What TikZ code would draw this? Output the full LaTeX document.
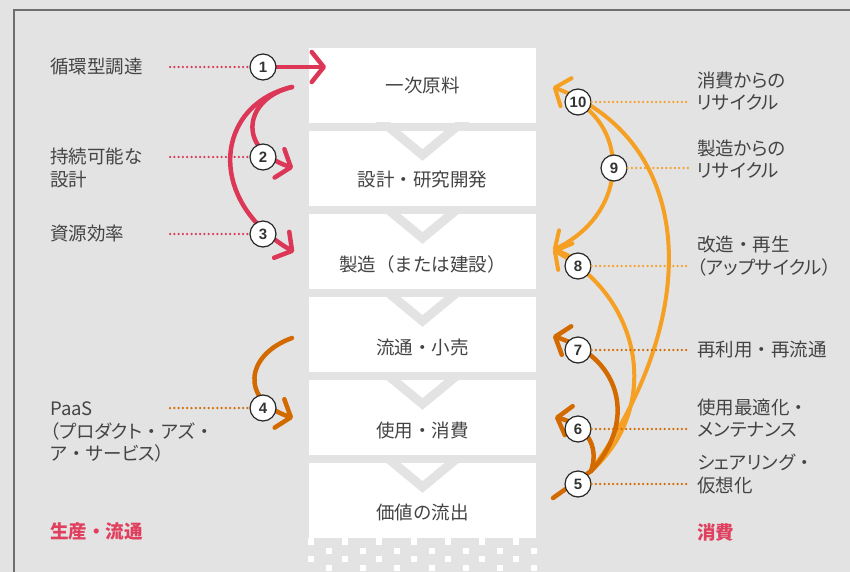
\documentclass[tikz,border=0pt]{standalone}
\usepackage{fontspec}
\setmainfont{Noto Sans CJK JP}
\newfontfamily\sidefont{Noto Sans CJK JP}[RawFeature=+palt]
\newfontfamily\plainjp{Noto Sans CJK JP}
\newfontfamily\numfont{Liberation Sans}
\newcommand\nkg{{\plainjp ・}}
\usetikzlibrary{arrows.meta}
\definecolor{bg}{HTML}{E3E3E3}
\definecolor{txt}{HTML}{444444}
\definecolor{cred}{HTML}{DC3757}
\definecolor{cdark}{HTML}{D26A00}
\definecolor{clight}{HTML}{F5A023}
\definecolor{lbred}{HTML}{E0405E}
\definecolor{framec}{HTML}{6E6E6E}
\begin{document}
\begin{tikzpicture}[x=1pt,y=-1pt,
  lbl/.style={anchor=west, align=left, text=txt, font=\sidefont\fontsize{18.5}{22.5}\selectfont, inner sep=0pt},
  boxlbl/.style={text=txt, font=\fontsize{18.5}{22.5}\selectfont, inner sep=0pt},
  headlbl/.style={anchor=west, text=lbred, font=\fontsize{18.5}{22.5}\selectfont\bfseries, inner sep=0pt},
  num/.style={circle, draw=black!85, line width=1.2pt, fill=white, minimum size=26pt, inner sep=0pt, font=\numfont\bfseries\fontsize{15}{15}\selectfont, text=black!80},
  arr/.style={line width=4.5pt, line cap=round, -{Straight Barb[length=12pt,width=30pt,round]}},
  thinarr/.style={line width=4pt, line cap=round, -{Straight Barb[length=12pt,width=30pt,round]}},
  dots/.style={line width=2.5pt, line cap=round, dash pattern=on 0pt off 4.3pt},
]
\useasboundingbox (0,0) rectangle (850,572);
\fill[bg] (0,0) rectangle (850,572);
\draw[framec, line width=2pt] (13.5,572) -- (13.5,10.5) -- (850,10.5);

% white boxes
\foreach \i in {0,...,5} {
  \pgfmathsetmacro{\top}{48+83*\i}
  \fill[white] (309,\top) rectangle (536,\top+75);
}
% chevron notches
\foreach \i in {1,...,5} {
  \pgfmathsetmacro{\top}{48+83*\i}
  \begin{scope}
    \clip (300,\top-8) rectangle (545,\top+45);
    \draw[bg, line width=9pt, miter limit=10] (372.9,\top-17) -- (422.5,\top+24) -- (472.1,\top-17);
  \end{scope}
}
% checker pattern
\foreach \k in {0,...,6} {
  \fill[white] (308+34.2*\k,538) rectangle +(6,7);
  \fill[white] (326+34.2*\k,547.5) rectangle +(6,6);
  \fill[white] (308+34.2*\k,556) rectangle +(6,6);
  \fill[white] (326+34.2*\k,565) rectangle +(6,6);
}

% box labels
\node[boxlbl] (t1) at (422.5,85) {一次原料};
\node[boxlbl] (t2) at (422.5,180) {設計・研究開発};
\node[boxlbl] (t3) at (422.5,264) {製造（または建設）};
\node[boxlbl] (t4) at (422.5,347) {流通・小売};
\node[boxlbl] (t5) at (422.5,430) {使用・消費};
\node[boxlbl] (t6) at (422.5,512) {価値の流出};

% left labels
\node[lbl] (l1) at (50,67) {循環型調達};
\node[lbl] (l2) at (50,168) {持続可能な\\設計};
\node[lbl] (l3) at (50,234) {資源効率};
\node[lbl] (l4) at (50,432) {PaaS\\（プロダクト\nkg アズ\nkg\\ア\nkg サービス）};
\node[headlbl] (lh) at (50,531) {生産・流通};

% right labels
\node[lbl] (r10) at (697,91) {消費からの\\リサイクル};
\node[lbl] (r9) at (697,159) {製造からの\\リサイクル};
\node[lbl] (r8) at (697,256) {改造\nkg 再生\\（アップサイクル）};
\node[lbl] (r7) at (697,350) {再利用\nkg 再流通};
\node[lbl] (r6) at (697,418) {使用最適化\nkg\\メンテナンス};
\node[lbl] (r5) at (697,474) {シェアリング\nkg\\仮想化};
\node[headlbl] (rh) at (697,532) {消費};

% coordinates
\coordinate (a1s) at (263,67);
\coordinate (a1e) at (326,67);
\coordinate (s23) at (292,87);
\coordinate (a2e) at (293,168);
\coordinate (a3e) at (294,252);
\coordinate (a4s) at (292,338);
\coordinate (a4e) at (293,418);
\coordinate (s5) at (591,471);
\coordinate (a5s) at (553,498);
\coordinate (a10e) at (553,87);
\coordinate (a8e) at (553,250);
\coordinate (a9s) at (578,102);
\coordinate (a7e) at (553,336);
\coordinate (a6e) at (555,417);

% left arrows
\draw[arr, cred] (a1s) -- (a1e);
\draw[arr, cred] (s23) .. controls (245,98) and (235,148) .. (a2e);
\draw[arr, cred] (s23) .. controls (215,105) and (205,200) .. (a3e);
\draw[arr, cdark] (a4s) .. controls (245,355) and (240,400) .. (a4e);

% right arrows (light)
\draw[thinarr, clight] (s5) .. controls (700,320) and (700,145) .. (a10e);
\draw[thinarr, clight] (s5) .. controls (660,410) and (645,300) .. (a8e);
\draw[thinarr, clight] (a9s) .. controls (630,135) and (625,215) .. (a8e);
% right arrows (dark)
\draw[line width=4.5pt, line cap=round, cdark] (a5s) -- (s5);
\draw[arr, cdark] (s5) .. controls (635,425) and (625,360) .. (a7e);
\draw[arr, cdark] (s5) .. controls (600,445) and (585,425) .. (a6e);

% circles
\node[num] (c1) at (263,67) {1};
\node[num] (c2) at (263,157) {2};
\node[num] (c3) at (263,234) {3};
\node[num] (c4) at (263,408) {4};
\node[num] (c5) at (578,484) {5};
\node[num] (c6) at (578,429) {6};
\node[num] (c7) at (578,350) {7};
\node[num] (c8) at (578,266) {8};
\node[num] (c9) at (614,168) {9};
\node[num] (c10) at (578,102) {10};

% dotted leaders
\coordinate (d1) at (170,67);
\coordinate (d2) at (170,157);
\coordinate (d3) at (170,234);
\coordinate (d4) at (170,408);
\draw[dots, cred] (d1) -- (c1.west);
\draw[dots, cred] (d2) -- (c2.west);
\draw[dots, cred] (d3) -- (c3.west);
\draw[dots, cdark] (d4) -- (c4.west);
\coordinate (e10) at (688,102);
\coordinate (e9) at (688,168);
\coordinate (e8) at (688,266);
\coordinate (e7) at (688,350);
\coordinate (e6) at (688,429);
\coordinate (e5) at (688,484);
\draw[dots, clight] (c10.east) -- (e10);
\draw[dots, clight] (c9.east) -- (e9);
\draw[dots, clight] (c8.east) -- (e8);
\draw[dots, cdark] (c7.east) -- (e7);
\draw[dots, cdark] (c6.east) -- (e6);
\draw[dots, cdark] (c5.east) -- (e5);
\end{tikzpicture}
\end{document}
